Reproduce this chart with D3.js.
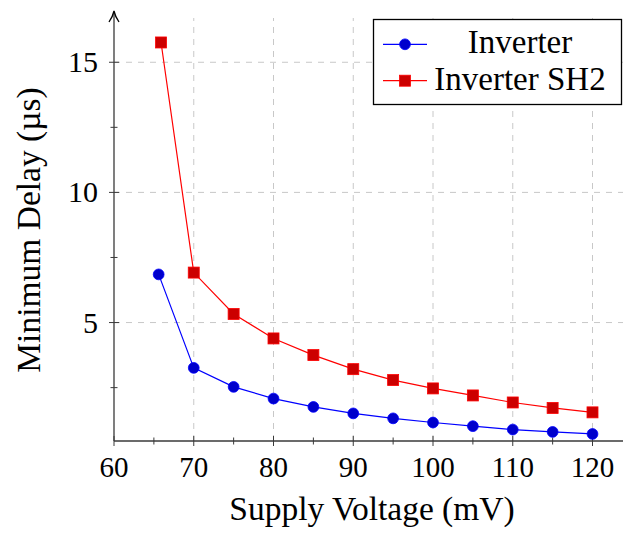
<!DOCTYPE html>
<html>
<head>
<meta charset="utf-8">
<script src="https://cdn.jsdelivr.net/npm/d3@7"></script>
<style>
  html, body { margin: 0; padding: 0; background: #fff; }
  svg { display: block; }
</style>
</head>
<body>
<svg id="chart" width="623" height="534" font-family="'Liberation Serif', 'DejaVu Serif', serif"></svg>
<script>
// Supply voltage (mV) for each measurement
const voltInverter = [65.6, 70, 75, 80, 85, 90, 95, 100, 105, 110, 115, 120];
const voltSH2      = [65.9, 70, 75, 80, 85, 90, 95, 100, 105, 110, 115, 120];
// Minimum delay (µs)
const delayInverter = [6.85, 3.26, 2.53, 2.08, 1.76, 1.51, 1.32, 1.16, 1.02, 0.89, 0.80, 0.72];
const delaySH2      = [15.76, 6.92, 5.33, 4.39, 3.75, 3.21, 2.79, 2.47, 2.20, 1.93, 1.72, 1.55];

const seriesNames = ["Inverter", "Inverter SH2"];
const xTicks = [60, 70, 80, 90, 100, 110, 120];
const xMinorTicks = [65, 75, 85, 95, 105, 115];
const yTicks = [5, 10, 15];
const yMinorTicks = [2.5, 7.5, 12.5];

const FONT = "'Liberation Serif', 'DejaVu Serif', serif";
const svg = d3.select("#chart");

const x = d3.scaleLinear().domain([60, 124]).range([114, 624.4]);
const y = d3.scaleLinear().domain([0.45, 16.7]).range([441, 18]);

const x0 = x.range()[0], x1 = 623;
const yBottom = y.range()[0], yTop = y.range()[1];

// grid
const grid = svg.append("g").attr("stroke", "#c8c8c8").attr("stroke-width", 1)
  .attr("stroke-dasharray", "6,6");
grid.selectAll("line.v").data(xTicks.slice(1)).join("line")
  .attr("x1", d => x(d)).attr("x2", d => x(d))
  .attr("y1", yBottom).attr("y2", yTop);
grid.selectAll("line.h").data(yTicks).join("line")
  .attr("x1", x0).attr("x2", x1)
  .attr("y1", d => y(d)).attr("y2", d => y(d));

// axes lines
const axisColor = "#3a3a3a";
svg.append("line").attr("x1", x0).attr("x2", x1).attr("y1", yBottom).attr("y2", yBottom)
  .attr("stroke", axisColor).attr("stroke-width", 1.3);
svg.append("line").attr("x1", x0).attr("x2", x0).attr("y1", yBottom).attr("y2", 12)
  .attr("stroke", axisColor).attr("stroke-width", 1.3);
// arrow head on y axis
svg.append("path")
  .attr("d", `M${x0 - 5},${22} Q${x0 - 1},${16} ${x0},${11} Q${x0 + 1},${16} ${x0 + 5},${22}`)
  .attr("fill", "none").attr("stroke", "#000").attr("stroke-width", 1.3);

// ticks
const ticks = svg.append("g").attr("stroke", axisColor).attr("stroke-width", 1);
ticks.selectAll("line.xt").data(xTicks).join("line")
  .attr("x1", d => x(d)).attr("x2", d => x(d)).attr("y1", yBottom - 5).attr("y2", yBottom + 5);
ticks.selectAll("line.xm").data(xMinorTicks).join("line")
  .attr("x1", d => x(d)).attr("x2", d => x(d)).attr("y1", yBottom - 3.5).attr("y2", yBottom + 3.5);
ticks.selectAll("line.yt").data(yTicks).join("line")
  .attr("x1", x0 - 5).attr("x2", x0 + 5).attr("y1", d => y(d)).attr("y2", d => y(d));
ticks.selectAll("line.ym").data(yMinorTicks).join("line")
  .attr("x1", x0 - 3.5).attr("x2", x0 + 3.5).attr("y1", d => y(d)).attr("y2", d => y(d));

// tick labels
svg.append("g").selectAll("text").data(xTicks).join("text")
  .attr("x", d => x(d)).attr("y", 477).attr("text-anchor", "middle")
  .attr("font-family", FONT).attr("font-size", 29).text(d => d);
svg.append("g").selectAll("text").data(yTicks).join("text")
  .attr("x", 98).attr("y", d => y(d) + 10).attr("text-anchor", "end")
  .attr("font-family", FONT).attr("font-size", 30).text(d => d);

// axis titles
svg.append("text").attr("x", 372).attr("y", 520).attr("text-anchor", "middle")
  .attr("font-family", FONT).attr("font-size", 33.5).text("Supply Voltage (mV)");
svg.append("text").attr("transform", "translate(40,230) rotate(-90)")
  .attr("text-anchor", "middle").attr("font-family", FONT).attr("font-size", 33.5)
  .text("Minimum Delay (µs)");

// series
const line = d3.line().x(d => x(d[0])).y(d => y(d[1]));
const invData = voltInverter.map((v, i) => [v, delayInverter[i]]);
const sh2Data = voltSH2.map((v, i) => [v, delaySH2[i]]);

svg.append("path").datum(sh2Data).attr("d", line)
  .attr("fill", "none").attr("stroke", "#ff0000").attr("stroke-width", 1.2);
svg.append("path").datum(invData).attr("d", line)
  .attr("fill", "none").attr("stroke", "#0000ff").attr("stroke-width", 1.2);

const sq = 11;
svg.append("g").selectAll("rect").data(sh2Data).join("rect")
  .attr("x", d => x(d[0]) - sq / 2).attr("y", d => y(d[1]) - sq / 2)
  .attr("width", sq).attr("height", sq)
  .attr("fill", "#cc0000").attr("stroke", "#ff0000").attr("stroke-width", 0.8);
svg.append("g").selectAll("circle").data(invData).join("circle")
  .attr("cx", d => x(d[0])).attr("cy", d => y(d[1])).attr("r", 5.4)
  .attr("fill", "#0000cc").attr("stroke", "#0000ff").attr("stroke-width", 0.8);

// legend
const lg = svg.append("g");
lg.append("rect").attr("x", 373.5).attr("y", 19.5).attr("width", 248).attr("height", 85)
  .attr("fill", "#fff").attr("stroke", "#000").attr("stroke-width", 1.3);
const rows = [
  { name: seriesNames[0], color: "#0000ff", fill: "#0000cc", shape: "circle", y: 44.3 },
  { name: seriesNames[1], color: "#ff0000", fill: "#cc0000", shape: "square", y: 80.7 }
];
rows.forEach(r => {
  lg.append("line").attr("x1", 383).attr("x2", 427).attr("y1", r.y).attr("y2", r.y)
    .attr("stroke", r.color).attr("stroke-width", 1.2);
  if (r.shape === "circle") {
    lg.append("circle").attr("cx", 405).attr("cy", r.y).attr("r", 5.4)
      .attr("fill", r.fill).attr("stroke", r.color).attr("stroke-width", 0.8);
  } else {
    lg.append("rect").attr("x", 405 - sq / 2).attr("y", r.y - sq / 2).attr("width", sq).attr("height", sq)
      .attr("fill", r.fill).attr("stroke", r.color).attr("stroke-width", 0.8);
  }
  lg.append("text").attr("x", 520).attr("y", r.y + 9).attr("text-anchor", "middle")
    .attr("font-family", FONT).attr("font-size", 33).text(r.name);
});
</script>
</body>
</html>
